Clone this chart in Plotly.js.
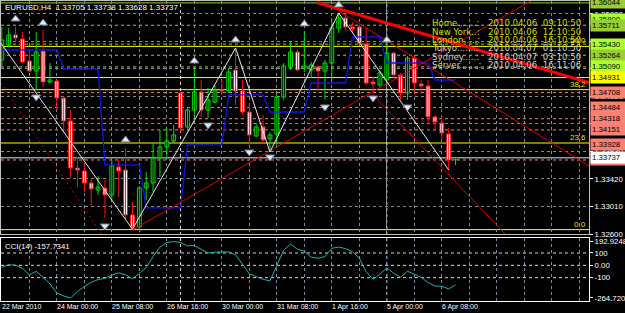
<!DOCTYPE html>
<html><head><meta charset="utf-8">
<script src="https://cdn.plot.ly/plotly-3.0.1.min.js"></script>
<style>html,body{margin:0;padding:0;background:#000;overflow:hidden}#chart{width:625px;height:313px}</style>
</head><body><div id="chart"></div>
<script>
// ---------- DATA ----------
const symbol = "EURUSD", timeframe = "H4";
const times = [
 "2010.03.22 16:00","2010.03.22 20:00",
 "2010.03.23 00:00","2010.03.23 04:00","2010.03.23 08:00","2010.03.23 12:00","2010.03.23 16:00","2010.03.23 20:00",
 "2010.03.24 00:00","2010.03.24 04:00","2010.03.24 08:00","2010.03.24 12:00","2010.03.24 16:00","2010.03.24 20:00",
 "2010.03.25 00:00","2010.03.25 04:00","2010.03.25 08:00","2010.03.25 12:00","2010.03.25 16:00","2010.03.25 20:00",
 "2010.03.26 00:00","2010.03.26 04:00","2010.03.26 08:00","2010.03.26 12:00","2010.03.26 16:00","2010.03.26 20:00",
 "2010.03.29 00:00","2010.03.29 04:00","2010.03.29 08:00","2010.03.29 12:00","2010.03.29 16:00","2010.03.29 20:00",
 "2010.03.30 00:00","2010.03.30 04:00","2010.03.30 08:00","2010.03.30 12:00","2010.03.30 16:00","2010.03.30 20:00",
 "2010.03.31 00:00","2010.03.31 04:00","2010.03.31 08:00","2010.03.31 12:00","2010.03.31 16:00","2010.03.31 20:00",
 "2010.04.01 00:00","2010.04.01 04:00","2010.04.01 08:00","2010.04.01 12:00","2010.04.01 16:00","2010.04.01 20:00",
 "2010.04.02 00:00","2010.04.02 04:00","2010.04.02 08:00","2010.04.02 12:00","2010.04.02 16:00","2010.04.02 20:00",
 "2010.04.05 00:00","2010.04.05 04:00","2010.04.05 08:00","2010.04.05 12:00","2010.04.05 16:00","2010.04.05 20:00",
 "2010.04.06 00:00","2010.04.06 04:00","2010.04.06 08:00","2010.04.06 12:00","2010.04.06 16:00"
];
const open = [1.35193,1.35417,1.35566,1.35506,1.35178,1.35029,1.35327,1.34865,1.34880,1.34627,
 1.34284,1.33584,1.33539,1.33360,1.33256,1.33286,1.33182,1.33599,1.33554,1.32884,
 1.32705,1.33286,1.33360,1.33733,1.33897,1.33986,1.34701,1.34195,1.34448,1.34716,
 1.34448,1.34567,1.34746,1.34731,1.35044,1.34731,1.34418,1.34061,1.34195,1.34016,
 1.34091,1.34642,1.35089,1.35312,1.35074,1.35044,1.35089,1.35029,1.35148,1.35670,
 1.35819,1.35685,1.35685,1.35432,1.34865,1.34821,1.34895,1.35297,1.34970,1.34701,
 1.35223,1.34836,1.34806,1.34344,1.34254,1.34091,1.33705];
const high = [1.35685,1.35670,1.35685,1.35610,1.35342,1.35610,1.35640,1.35148,1.34895,1.34657,
 1.34448,1.33748,1.33658,1.33435,1.33465,1.33405,1.33703,1.33703,1.33882,1.33077,
 1.33316,1.33524,1.33956,1.34150,1.34180,1.34225,1.34716,1.34478,1.35074,1.34895,
 1.34776,1.34821,1.34895,1.35074,1.35372,1.34895,1.34552,1.34254,1.34374,1.34120,
 1.34701,1.35148,1.35461,1.35342,1.35625,1.35163,1.35119,1.35193,1.35819,1.35893,
 1.35879,1.35759,1.35715,1.35670,1.34940,1.35044,1.35417,1.35312,1.34999,1.35253,
 1.35253,1.34895,1.34895,1.34374,1.34374,1.34180,1.33738];
const low = [1.35104,1.35387,1.35461,1.35148,1.35014,1.34746,1.34791,1.34850,1.34448,1.34105,
 1.33435,1.33301,1.33226,1.33033,1.33182,1.32839,1.33107,1.33152,1.32809,1.32660,
 1.32675,1.33107,1.33226,1.33450,1.33748,1.33956,1.34120,1.34150,1.34344,1.34344,
 1.34329,1.34552,1.34672,1.34701,1.34523,1.34374,1.33912,1.34046,1.33956,1.33822,
 1.33927,1.34597,1.35044,1.35029,1.35014,1.34925,1.34746,1.34597,1.34895,1.35595,
 1.35640,1.35595,1.35417,1.34821,1.34701,1.34791,1.34865,1.34925,1.34597,1.34597,
 1.34701,1.34687,1.34225,1.34150,1.34001,1.33554,1.33628];
const close = [1.35491,1.35566,1.35521,1.35163,1.35029,1.35312,1.34865,1.34895,1.34627,1.34284,
 1.33584,1.33554,1.33360,1.33271,1.33301,1.33182,1.33614,1.33539,1.32884,1.32705,
 1.33286,1.33360,1.33733,1.33897,1.33986,1.34076,1.34180,1.34448,1.34716,1.34448,
 1.34597,1.34746,1.34731,1.35014,1.34731,1.34418,1.34076,1.34195,1.34001,1.34076,
 1.34642,1.35104,1.35312,1.35044,1.35104,1.35119,1.35029,1.35148,1.35670,1.35819,
 1.35685,1.35655,1.35446,1.34850,1.34836,1.34999,1.35297,1.34970,1.34701,1.35223,
 1.34850,1.34806,1.34344,1.34269,1.34105,1.33703,1.33737];
const cci = [-15.5,4.9,0.8,-23.7,-76.8,-48.2,-97.2,-150.3,-223.9,-248.4,
 -264.72,-213.2,-170.8,-138.1,-115.2,-105.4,-79.2,-60.5,-76.8,-109.5,
 -64.5,-19.6,70.3,147.9,184.6,192.9248,184.6,157.7,160.1,127.5,
 100.5,107.0,108.7,108.7,86.6,13.1,-68.6,-91.5,-113.6,-125.8,
 -3.3,123.4,172.4,129.9,115.2,66.2,58.0,70.3,138.1,147.9,
 135.6,111.1,58.0,-52.3,-113.6,-72.7,-19.6,-64.5,-97.2,-48.2,
 -72.7,-97.2,-139.7,-166.7,-170.8,-191.2,-157.7341];
const channel = [1.35342,1.35342,1.35342,1.35342,1.35342,1.35342,1.35342,1.35342,1.35342,
 1.35059,1.35059,1.35059,1.35059,1.35059,1.35059,
 1.33629,1.33629,1.33629,1.33629,1.33629,1.33629,
 1.32988,1.32988,1.32988,1.32988,1.32988,1.32988,
 1.33927,1.33927,1.33927,1.33927,1.33927,1.33927,
 1.34672,1.34672,1.34672,1.34672,1.34672,1.34672,
 1.34418,1.34418,1.34418,1.34418,1.34418,1.34418,
 1.34850,1.34850,1.34850,1.34850,1.34850,1.34850,
 1.35536,1.35536,1.35536,1.35536,1.35536,
 1.35148,1.35148,1.35148,1.35148,1.35148,1.35148,1.35148,
 1.34895,1.34895,1.34895,1.34895];
const zigzagBars = [-1,19,34,39,49,65];
const zigzagPrices = [1.35570,1.32670,1.35372,1.33822,1.35893,1.33554];
const fractalUpBars = [2,6,18,28,34,44,49,56];
const fractalUpPrices = [1.35804,1.35744,1.34001,1.35178,1.35491,1.35730,1.36013,1.35491];
const fractalDownBars = [5,15,30,36,39,47,54,59];
const fractalDownPrices = [1.34642,1.32720,1.34225,1.33822,1.33748,1.34493,1.34627,1.34493];
const trendThickBars = [45.85,85.41], trendThickPrices = [1.36050,1.34855];
const trendUpperBars = [48.8,85.41], trendUpperPrices = [1.35938,1.33614];
const trendSteepBars = [54,74], trendSteepPrices = [1.34672,1.32514];
const trendRiseBars = [19,78], trendRisePrices = [1.32660,1.36135];
const trendDotBars = [-0.2,14.6], trendDotPrices = [1.34855,1.32581];
const fibPrices = [1.32665,1.33956,1.34751,1.35396];
const fibLabels = ["0.0","23.6","38.2","50.0"];
const yellowLevels = [1.34931];
const topLevel = 1.36044;
const greenDashLevels = [1.35711,1.35430,1.35264,1.35090];
const greenLabelPrices = [1.36044,1.35800,1.35711,1.35430,1.35264,1.35090];
const salmonLevels = [1.34708,1.34484,1.34318,1.34151,1.33703];
const salmonLabelPrices = [1.34708,1.34484,1.34318,1.34151,1.33928,1.33703];
const bidPrice = 1.33737;
const cciLevels = [100,0,-100];
const cciTicks = [192.9248,100,0,-100,-264.72];
const cciTickText = ["192.9248","100","0.00","-100","-264.720"];
const xTickBars = [0,8,16,24,32,40,48,56,64];
const xTickText = ["22 Mar 2010","24 Mar 00:00","25 Mar 08:00","26 Mar 16:00","30 Mar 00:00","31 Mar 08:00","1 Apr 16:00","5 Apr 00:00","6 Apr 08:00"];
const weekSeparators = [26,56];
const sessionNames = ["Home.......:","New York..:","London.....:","Tokyo.......:","Sydney.....:","Server.......:"];
const sessionTimes = ["2010.04.06 09:10:50","2010.04.06 12:10:50","2010.04.06 16:10:50","2010.04.07 01:10:50","2010.04.07 03:10:50","2010.04.06 16:11:06"];

// ---------- STYLE / HELPERS ----------
const W = 625, H = 313, ML = 1, MR = 36, MT = 1, MB = 12;
const PW = W - ML - MR, PH = H - MT - MB;
const px = x => (x - ML) / PW;
const py = y => (H - MB - y) / PH;
const GRID = '#7d8a99';
const idx = open.map((_, i) => i);
const isBull = idx.map(i => close[i] >= open[i]);

function wicks(sel) {
  const x = [], y = [];
  idx.forEach(i => { if (sel(i)) { x.push(i, i, null); y.push(low[i], high[i], null); } });
  return {x, y};
}
const wb = wicks(i => isBull[i]), wr = wicks(i => !isBull[i]);

const main = {xaxis: 'x2', yaxis: 'y', hoverinfo: 'skip'};
const traces = [
  Object.assign({type: 'scatter', mode: 'lines', x: wb.x, y: wb.y, line: {color: '#00e000', width: 1}}, main),
  Object.assign({type: 'scatter', mode: 'lines', x: wr.x, y: wr.y, line: {color: '#ff1010', width: 1}}, main),
  Object.assign({type: 'bar', x: idx, base: open, y: idx.map(i => close[i] - open[i]), width: 0.56,
    marker: {color: idx.map(i => isBull[i] ? '#000000' : '#ffffff'),
             line: {color: idx.map(i => isBull[i] ? '#00e000' : '#ff1010'), width: 1}}}, main),
  Object.assign({type: 'scatter', mode: 'lines', x: idx, y: channel, line: {color: '#1414e6', width: 1.3}}, main),
  Object.assign({type: 'scatter', mode: 'lines', x: trendDotBars, y: trendDotPrices, line: {color: '#d00000', width: 1, dash: '2px,3px'}}, main),
  Object.assign({type: 'scatter', mode: 'lines', x: trendRiseBars, y: trendRisePrices, line: {color: '#e00000', width: 1}}, main),
  Object.assign({type: 'scatter', mode: 'lines', x: trendUpperBars, y: trendUpperPrices, line: {color: '#e00000', width: 1}}, main),
  Object.assign({type: 'scatter', mode: 'lines', x: trendSteepBars, y: trendSteepPrices, line: {color: '#d00000', width: 1}}, main),
  Object.assign({type: 'scatter', mode: 'lines', x: zigzagBars, y: zigzagPrices, line: {color: '#e6e6e6', width: 1}}, main),
  Object.assign({type: 'scatter', mode: 'lines', x: trendThickBars, y: trendThickPrices, line: {color: '#ff0000', width: 3}}, main),
  Object.assign({type: 'scatter', mode: 'markers', x: fractalUpBars, y: fractalUpPrices,
    marker: {symbol: 'triangle-up', size: 8, color: '#e4e8f0', line: {color: '#6a7a94', width: 1}}}, main),
  Object.assign({type: 'scatter', mode: 'markers', x: fractalDownBars, y: fractalDownPrices,
    marker: {symbol: 'triangle-down', size: 8, color: '#e4e8f0', line: {color: '#6a7a94', width: 1}}}, main),
  {type: 'scatter', mode: 'lines', x: idx, y: cci, xaxis: 'x', yaxis: 'y2', line: {color: '#20b2aa', width: 1}, hoverinfo: 'skip'}
];

// ---------- SHAPES ----------
const shapes = [];
const hline = (p, color, dash, width, yref) => shapes.push({type: 'line', xref: 'paper', x0: 0, x1: 1, yref: yref || 'y', y0: p, y1: p,
  line: {color: color, width: width || 1, dash: dash || 'solid'}, layer: 'between'});
hline(topLevel, '#9acd32', 'solid');
greenDashLevels.forEach(p => hline(p, '#9acd32', '3px,3px'));
salmonLevels.forEach(p => hline(p, '#fa8072', '3px,3px'));
fibPrices.forEach(p => hline(p, '#ffff00', 'solid'));
yellowLevels.forEach(p => hline(p, '#ffff00', 'solid'));
hline(bidPrice, '#9a9a9a', 'solid', 1.5);
cciLevels.forEach(v => hline(v, '#d8d8d8', '3px,3px', 1, 'y2'));
weekSeparators.forEach(b => shapes.push({type: 'line', xref: 'x', x0: b, x1: b, yref: 'paper', y0: 0, y1: 1,
  line: {color: '#e0e0e0', width: 1, dash: '3px,3px'}, layer: 'between'}));

// ---------- ANNOTATIONS ----------
const ann = [];
const FONT = 'Liberation Sans, Arial, sans-serif';
const greenBg = ['#9acd32', '#adff2f', '#9acd32', '#adff2f', '#9acd32', '#adff2f'];
const priceLabel = (p, bg) => ann.push({xref: 'paper', x: 1, xanchor: 'left', xshift: 1, yref: 'y', y: p, yanchor: 'middle',
  text: p.toFixed(5), showarrow: false, bgcolor: bg, borderpad: 1, width: 32, align: 'left',
  font: {family: FONT, size: 7.8, color: '#000'}});
greenLabelPrices.forEach((p, k) => priceLabel(p, greenBg[k % greenBg.length]));
yellowLevels.forEach(p => priceLabel(p, '#ffff00'));
salmonLabelPrices.forEach(p => priceLabel(p, '#fa8072'));
priceLabel(bidPrice, '#ffffff');

fibPrices.forEach((p, k) => ann.push({xref: 'paper', x: 1, xanchor: 'right', xshift: -2, yref: 'y', y: p, yanchor: 'bottom',
  text: fibLabels[k], showarrow: false, borderpad: 0, font: {family: FONT, size: 8, color: '#e6e600'}}));

xTickBars.forEach((b, k) => ann.push({xref: 'x', x: b, xanchor: 'left', xshift: -1, yref: 'paper', y: 0, yanchor: 'top', yshift: -1,
  text: xTickText[k], showarrow: false, borderpad: 0, font: {family: FONT, size: 7, color: '#fff'}}));

const last = open.length - 1;
ann.push({xref: 'paper', x: px(4), xanchor: 'left', yref: 'paper', y: py(7.5), yanchor: 'middle', showarrow: false, borderpad: 0,
  text: symbol + ',' + timeframe + '  ' + [open[last], high[last], low[last], close[last]].map(v => v.toFixed(5)).join(' '),
  font: {family: FONT, size: 8, color: '#fff'}});
ann.push({xref: 'paper', x: px(4), xanchor: 'left', yref: 'paper', y: py(246.5), yanchor: 'middle', showarrow: false, borderpad: 0,
  text: 'CCI(14) ' + cci[last].toFixed(4), font: {family: FONT, size: 7.8, color: '#fff'}});

sessionNames.forEach((n, k) => {
  const col = k < 3 ? '#d8d800' : '#cfcfcf';
  const yy = py(23.3 + 8.33 * k);
  ann.push({xref: 'paper', x: px(431), xanchor: 'left', yref: 'paper', y: yy, yanchor: 'middle', showarrow: false, borderpad: 0,
    text: n, font: {family: 'DejaVu Sans, sans-serif', size: 8.6, color: col}});
  ann.push({xref: 'paper', x: px(487), xanchor: 'left', yref: 'paper', y: yy, yanchor: 'middle', showarrow: false, borderpad: 0,
    text: sessionTimes[k].replace(' ', '  '), font: {family: 'DejaVu Sans, sans-serif', size: 8.6, color: col}});
});

// ---------- LAYOUT ----------
const xCommon = {range: [-0.12, 85.41], tickmode: 'linear', tick0: 0, dtick: 4, showticklabels: false, ticks: '',
  showgrid: true, gridcolor: GRID, griddash: '3px,3px', gridwidth: 1, zeroline: false,
  showline: true, mirror: true, linewidth: 1, fixedrange: true};
const layout = {
  width: W, height: H, margin: {l: ML, r: MR, t: MT, b: MB, pad: 0},
  paper_bgcolor: '#000', plot_bgcolor: '#000', showlegend: false, barmode: 'overlay',
  font: {family: FONT, size: 8, color: '#fff'},
  xaxis: Object.assign({}, xCommon, {anchor: 'y2', linecolor: '#ffffff'}),
  xaxis2: Object.assign({}, xCommon, {anchor: 'y', linecolor: '#c0c0c0'}),
  yaxis: {domain: [py(234), 1], anchor: 'x2', side: 'right', range: [1.3260, 1.36072],
    tickmode: 'linear', tick0: 1.326, dtick: 0.0041, tickformat: '.5f', ticks: 'outside', ticklen: 3, tickcolor: '#fff',
    tickfont: {family: FONT, size: 7.8, color: '#fff'}, showgrid: true, gridcolor: GRID, griddash: '3px,3px',
    zeroline: false, showline: true, mirror: true, linecolor: '#c0c0c0', fixedrange: true},
  yaxis2: {domain: [0, py(237.5)], anchor: 'x', side: 'right', range: [-289.2, 225.6],
    tickmode: 'array', tickvals: cciTicks, ticktext: cciTickText, ticks: 'outside', ticklen: 3, tickcolor: '#fff',
    tickfont: {family: FONT, size: 7.8, color: '#fff'}, showgrid: false, zeroline: false,
    showline: true, mirror: true, linecolor: '#ffffff', fixedrange: true},
  shapes: shapes,
  annotations: ann
};
Plotly.newPlot('chart', traces, layout, {staticPlot: true, displayModeBar: false});
</script></body></html>
